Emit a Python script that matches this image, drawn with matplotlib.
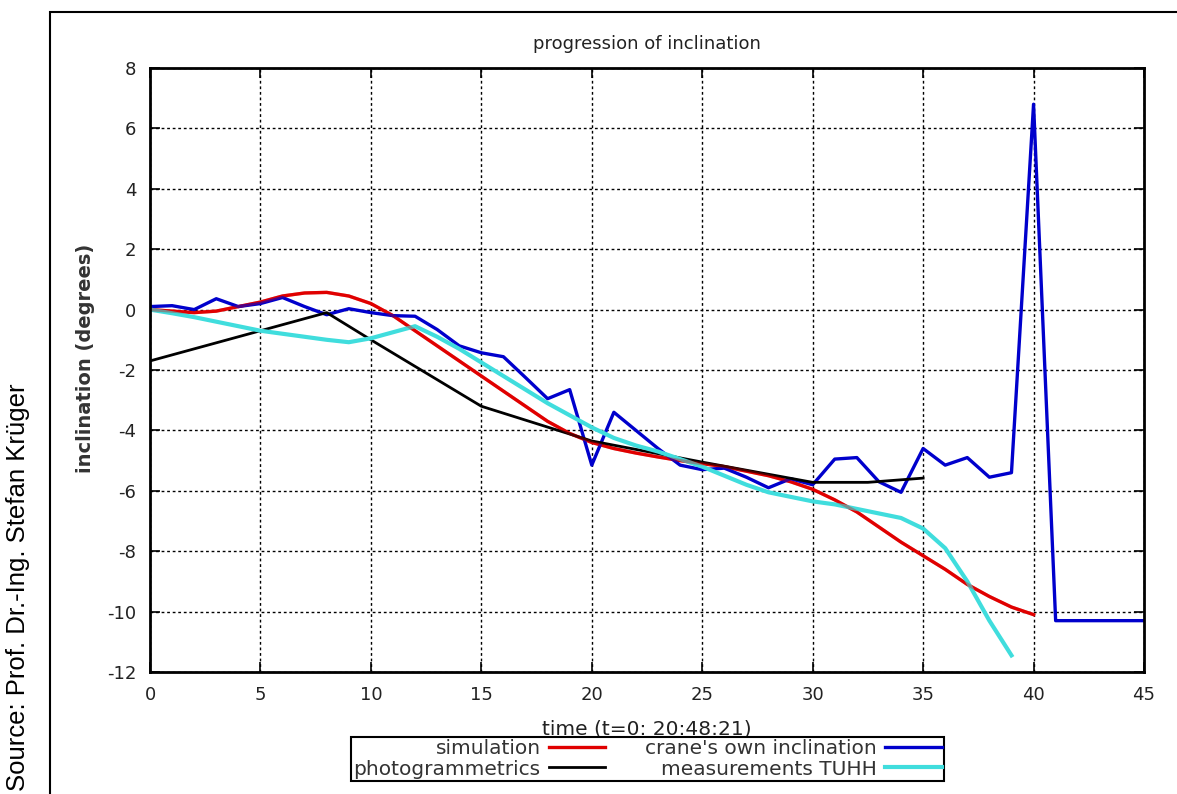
import numpy as np
import matplotlib
matplotlib.use('Agg')
from matplotlib import pyplot as plt
from matplotlib.patches import Rectangle

plt.rcParams['axes.unicode_minus'] = False

# crane's own inclination, sampled every second
t_crane = list(range(0, 46))
crane = [0.1, 0.13, 0.0, 0.36, 0.1, 0.2, 0.4, 0.1, -0.17, 0.03,
         -0.1, -0.2, -0.22, -0.66, -1.2, -1.43, -1.56, -2.25, -2.95, -2.65,
         -5.15, -3.4, -4.0, -4.6, -5.15, -5.3, -5.25, -5.55, -5.9, -5.6,
         -5.8, -4.95, -4.9, -5.7, -6.05, -4.6, -5.15, -4.9, -5.55, -5.4,
         6.8, -10.3, -10.3, -10.3, -10.3, -10.3]

# simulation
t_sim = list(range(0, 41))
sim = [0.0, -0.05, -0.1, -0.05, 0.1, 0.25, 0.45, 0.55, 0.57, 0.45,
       0.2, -0.2, -0.7, -1.2, -1.7, -2.2, -2.7, -3.2, -3.7, -4.1,
       -4.4, -4.6, -4.75, -4.88, -5.0, -5.1, -5.2, -5.35, -5.5, -5.7,
       -5.95, -6.3, -6.7, -7.2, -7.7, -8.15, -8.6, -9.1, -9.5, -9.85,
       -10.1]

# photogrammetrics
t_photo = [0, 8, 10, 15, 20, 25, 30, 32.5, 35]
photo = [-1.7, -0.1, -1.0, -3.2, -4.35, -5.05, -5.72, -5.72, -5.58]

# measurements TUHH
t_tuhh = list(range(0, 40))
tuhh = [0.0, -0.12, -0.25, -0.4, -0.55, -0.7, -0.8, -0.9, -1.0, -1.08,
        -0.95, -0.75, -0.55, -0.9, -1.3, -1.75, -2.2, -2.65, -3.1, -3.5,
        -3.9, -4.25, -4.5, -4.7, -4.95, -5.2, -5.5, -5.8, -6.05, -6.2,
        -6.35, -6.45, -6.6, -6.75, -6.9, -7.25, -7.9, -9.0, -10.3, -11.45]

xticks = [0, 5, 10, 15, 20, 25, 30, 35, 40, 45]
yticks = [8, 6, 4, 2, 0, -2, -4, -6, -8, -10, -12]

fig = plt.figure(figsize=(11.77, 7.94), dpi=100)
ax = fig.add_axes([150/1177, 1-672/794, (1144-150)/1177, (672-68)/794])

# outer frame
fig.patches.append(Rectangle((50/1177, -0.05), 1.2, 1-12/794+0.05,
                             transform=fig.transFigure, fill=False,
                             edgecolor='black', linewidth=1.5))

ax.plot(t_sim, sim, color='#E00000', linewidth=2.4, label='simulation')
ax.plot(t_crane, crane, color='#0000CC', linewidth=2.4, label="crane's own inclination")
ax.plot(t_photo, photo, color='black', linewidth=2.0, label='photogrammetrics')
ax.plot(t_tuhh, tuhh, color='#40DDDD', linewidth=3.0, label='measurements TUHH')
ax.plot(t_sim, sim, color='#E00000', linewidth=2.4, alpha=0.35)

ax.set_xlim(0, 45)
ax.set_ylim(-12, 8)
ax.set_xticks(xticks)
ax.set_yticks(yticks)
ax.grid(True, color='black', linestyle=(0, (2, 2)), linewidth=1.0)
ax.tick_params(direction='in', length=7, width=1.2, top=True, right=True,
               labelsize=13, labelcolor='#222222', pad=10)
for s in ax.spines.values():
    s.set_linewidth(2.0)

ax.set_title('progression of inclination', fontsize=13, color='#222222', pad=14)
ax.set_ylabel('inclination (degrees)', fontsize=14, fontweight='bold',
              color='#333333', labelpad=2)
ax.yaxis.set_label_coords(-0.055, 0.52)
ax.set_xlabel('time (t=0: 20:48:21)', fontsize=14.5, color='#222222', labelpad=11)

handles, labels = ax.get_legend_handles_labels()
order = [0, 2, 1, 3]
leg = fig.legend([handles[i] for i in order], [labels[i] for i in order],
                 ncol=2, markerfirst=False, loc='center',
                 bbox_to_anchor=((348+947)/2/1177, 1-759/794),
                 fontsize=14.5, frameon=True, fancybox=False, framealpha=1,
                 edgecolor='black', borderpad=0.1, labelspacing=0.05,
                 handlelength=2.8, handletextpad=0.4, columnspacing=2.0,
                 borderaxespad=0)
leg.get_frame().set_linewidth(1.5)
leg.set_zorder(5)
for txt in leg.get_texts():
    txt.set_color('#333333')

fig.text(18/1177, 1-587/794, 'Source: Prof. Dr.-Ing. Stefan Krüger',
         rotation=90, ha='center', va='center', fontsize=18.5,
         family='Liberation Sans')

plt.savefig('out.png', dpi=100)
